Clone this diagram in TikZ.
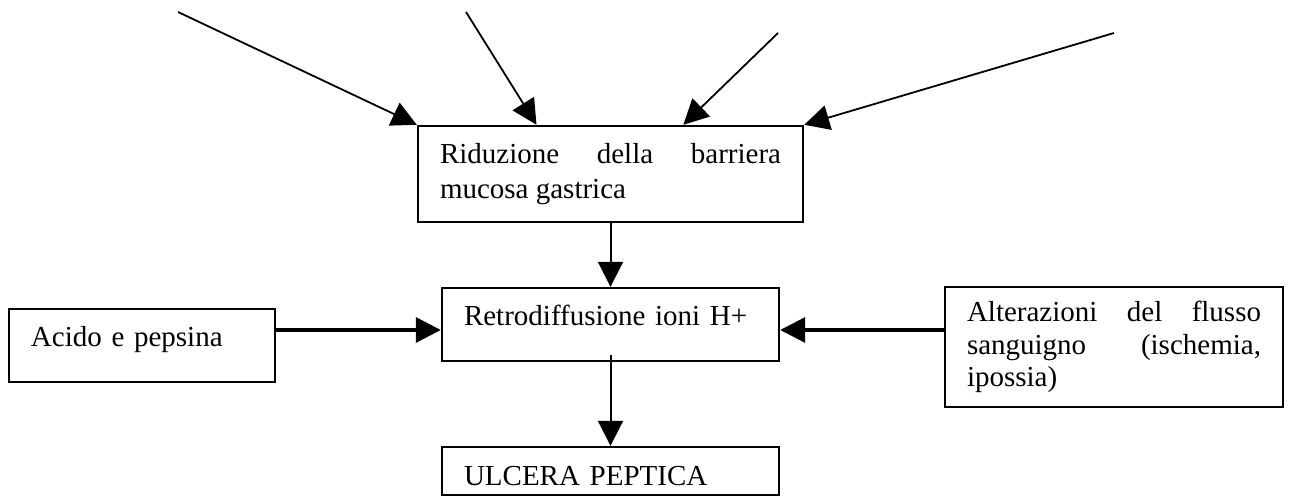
\documentclass[tikz,border=0pt]{standalone}
\usepackage{fontspec}
\setmainfont{Liberation Serif}
\usetikzlibrary{arrows.meta,calc}
\tolerance=10000
\hyphenpenalty=10000
\exhyphenpenalty=10000

\tikzset{
  box/.style={draw, rectangle, line width=1.2pt, inner xsep=11pt, inner ysep=0pt,
    font=\fontsize{14.5}{16.5}\selectfont},
  oneline/.style={align=left, text height=10pt, text depth=8.5pt},
  arr/.style={-{Triangle[length=12.5pt,width=12.5pt]}, line width=1pt},
  thinarr/.style={arr, line width=0.9pt},
  harr/.style={arr, line width=1.6pt},
}

\begin{document}
\begin{tikzpicture}[x=0.5pt, y=-0.5pt]
        \useasboundingbox (0,0) rectangle (1290,496);

        % Boxes
        \node[box, align=justify, text width=170.5pt, minimum height=48pt,
              font=\fontsize{14.5}{17.5}\selectfont] (R) at (610.5,174)
            {Riduzione della barriera mucosa gastrica};
        \node[box, oneline, text width=146.5pt, minimum height=36.5pt] (M) at (610.5,324.5)
            {Retrodiffusione ioni H+};
        \node[box, align=left, text width=146.5pt, minimum height=24pt,
              text height=14pt, text depth=0pt] (U) at (610.5,471)
            {ULCERA PEPTICA};
        \node[box, oneline, text width=111pt, minimum height=36.5pt] (A) at (142,345.5)
            {Acido e pepsina};
        \node[box, align=justify, text width=147pt, minimum height=60pt,
              font=\fontsize{14.5}{16.25}\selectfont] (F) at (1114,347)
            {Alterazioni del flusso sanguigno (ischemia, ipossia)};

        % Free ends of the upper arrows
        \coordinate (s1) at (178,12);
        \coordinate (s2) at (466,12);
        \coordinate (s3) at (778,33);
        \coordinate (s4) at (1114,33);

        % Upper arrows
        \draw[thinarr] (s1) -- (R.north west);
        \draw[thinarr] (s2) -- ($(R.north west)!0.309!(R.north east)$);
        \draw[thinarr] (s3) -- ($(R.north west)!0.688!(R.north east)$);
        \draw[thinarr] (s4) -- (R.north east);

        % Vertical arrows
        \draw[arr] (R.south) -- (M.north);
        \draw[arr] ([yshift=3.5pt]M.south) -- (U.north);

        % Side arrows
        \coordinate (hl) at ($(M.west)+(0,5.5)$);
        \coordinate (hr) at ($(M.east)+(0,5.5)$);
        \draw[harr] (A.east |- hl) -- (hl);
        \draw[harr] (F.west |- hr) -- (hr);

    \end{tikzpicture}
\end{document}
